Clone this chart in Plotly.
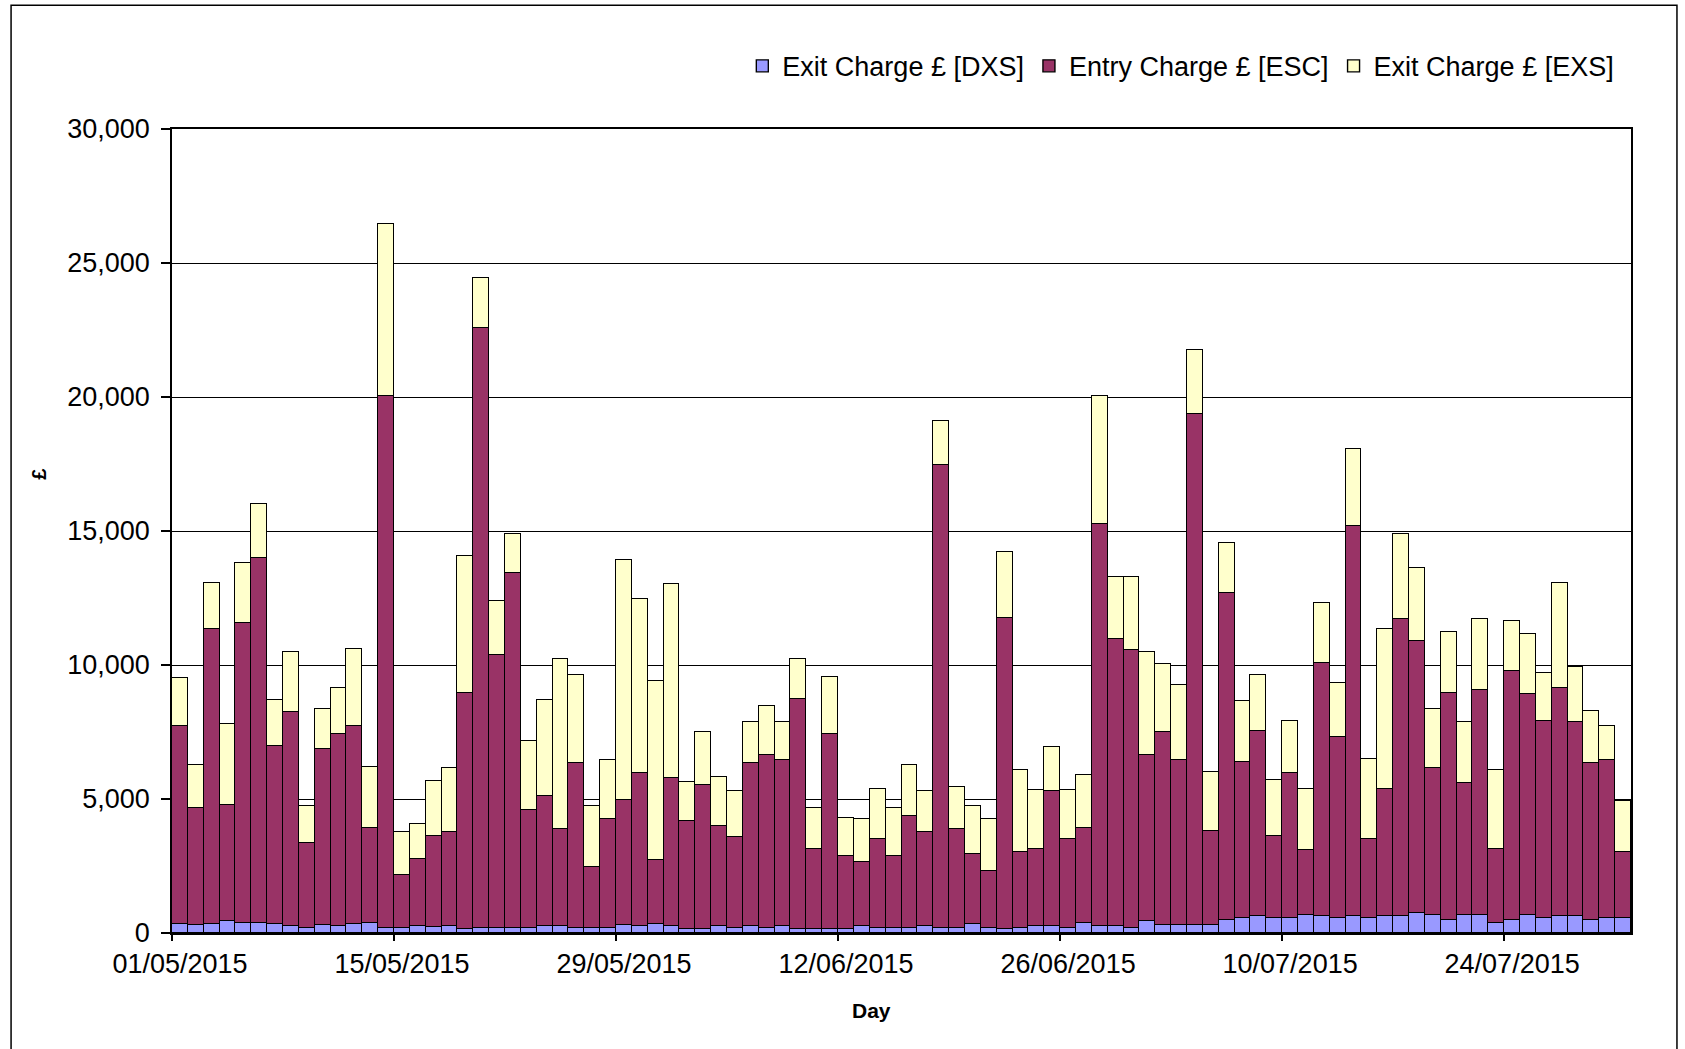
import plotly.graph_objects as go
import pandas as pd

# daily charges, 01/05/2015 - 31/07/2015
days = pd.date_range("2015-05-01", "2015-07-31", freq="D")

exit_dxs = [350, 310, 330, 430, 380, 380, 330, 260, 190, 310, 260, 330, 380, 190,
            190, 260, 210, 260, 140, 190, 190, 190, 190, 260, 260, 190, 190, 190,
            310, 260, 330, 260, 140, 140, 260, 190, 260, 190, 260, 140, 140, 140,
            140, 260, 190, 190, 190, 260, 190, 190, 330, 190, 140, 190, 260, 260,
            190, 380, 260, 260, 190, 430, 310, 310, 310, 310, 500, 560, 630, 560,
            560, 680, 630, 560, 630, 560, 630, 630, 750, 680, 500, 680, 680, 380,
            500, 680, 560, 630, 630, 500, 560, 560]

entry_esc = [7390, 4370, 11010, 4350, 11170, 13600, 6660, 7970, 3180, 6560, 7170, 7410, 3550, 19840,
             1970, 2520, 3410, 3510, 8820, 22370, 10180, 13240, 4400, 4840, 3620, 6140, 2280, 4070,
             4660, 5710, 2400, 5510, 4050, 5390, 3720, 3380, 6070, 6450, 6210, 8590, 2990, 7290,
             2750, 2380, 3310, 2700, 4180, 3500, 17270, 3690, 2630, 2110, 11630, 2820, 2870, 5030,
             3310, 3550, 15010, 10710, 10380, 6210, 7190, 6140, 19060, 3500, 12200, 5820, 6920, 3060,
             5410, 2400, 9440, 6740, 14570, 2940, 4760, 11070, 10150, 5460, 8460, 4900, 8400, 2750,
             9260, 8220, 7350, 8520, 7230, 5830, 5890, 2450]

exit_exs = [1770, 1580, 1720, 3010, 2240, 2020, 1720, 2270, 1360, 1480, 1720, 2870, 2280, 6440,
            1600, 1270, 2050, 2390, 5090, 1890, 2010, 1470, 2590, 3610, 6360, 3300, 2260, 2190,
            8960, 6480, 6660, 7240, 1460, 1970, 1850, 1720, 1530, 1830, 1390, 1510, 1550, 2140,
            1410, 1600, 1890, 1770, 1890, 1530, 1650, 1580, 1770, 1940, 2460, 3080, 2210, 1650,
            1840, 1970, 4760, 2320, 2720, 3850, 2550, 2820, 2390, 2210, 1840, 2280, 2080, 2100,
            1940, 2310, 2240, 2020, 2870, 3000, 5950, 3200, 2720, 2210, 2260, 2280, 2620, 2960,
            1890, 2270, 1780, 3910, 2070, 1970, 1290, 1910]

tick_days = pd.date_range("2015-05-01", "2015-07-31", freq="14D")

FONT = "Liberation Sans, Arial, sans-serif"
DAY_MS = 86400000

fig = go.Figure()

series = [
    ("Exit Charge £ [DXS]", exit_dxs, "#9999FF"),
    ("Entry Charge £ [ESC]", entry_esc, "#993366"),
    ("Exit Charge £ [EXS]", exit_exs, "#FFFFCC"),
]
for name, vals, color in series:
    fig.add_trace(go.Bar(
        x=days, y=vals, name=name,
        xperiod=DAY_MS, xperiodalignment="middle",
        marker=dict(color=color, line=dict(color="black", width=1.4)),
    ))

fig.update_layout(
    barmode="stack",
    bargap=0,
    width=1685, height=1049,
    paper_bgcolor="white",
    plot_bgcolor="white",
    font=dict(family=FONT, size=27, color="black"),
    margin=dict(l=172, r=54, t=129, b=116),
    legend=dict(
        orientation="h", x=0.992, xanchor="right", y=1.078, yanchor="middle",
        font=dict(size=27), itemwidth=30, traceorder="normal",
        bgcolor="rgba(0,0,0,0)",
    ),
    showlegend=True,
)

fig.update_xaxes(
    type="date",
    range=["2015-05-01", "2015-08-01"],
    tickvals=tick_days,
    tickformat="%d/%m/%Y",
    ticklabelshift=8,
    ticks="outside", ticklen=6, tickcolor="black", tickwidth=1.5,
    showline=True, linecolor="black", linewidth=1.5, mirror=True,
    showgrid=False,
)

fig.update_yaxes(
    range=[0, 30000],
    dtick=5000,
    tickformat=",",
    ticks="outside", ticklen=9, tickcolor="black", tickwidth=1.5,
    showline=True, linecolor="black", linewidth=1.5, mirror=True,
    showgrid=True, gridcolor="black", gridwidth=1,
    zeroline=False,
    ticklabelstandoff=6,
)

# axis titles placed like the original (not centred)
fig.add_annotation(
    text="<b>Day</b>", showarrow=False,
    xref="paper", yref="paper", x=0.4794, y=-0.0958,
    xanchor="center", yanchor="middle",
    font=dict(size=21),
)
fig.add_annotation(
    text="<b>£</b>", textangle=-90, showarrow=False,
    xref="paper", yref="paper", x=-0.0912, y=0.571,
    xanchor="center", yanchor="middle",
    font=dict(size=20),
)

# outer chart frame
fig.add_shape(
    type="rect", xref="paper", yref="paper",
    x0=-0.1103, x1=1.0315, y0=-0.2, y1=1.154,
    line=dict(color="black", width=1.5), fillcolor="rgba(0,0,0,0)",
)

fig.write_html(
    "out.html",
    config={"displayModeBar": False},
    post_script="document.body.style.margin='0';",
)
